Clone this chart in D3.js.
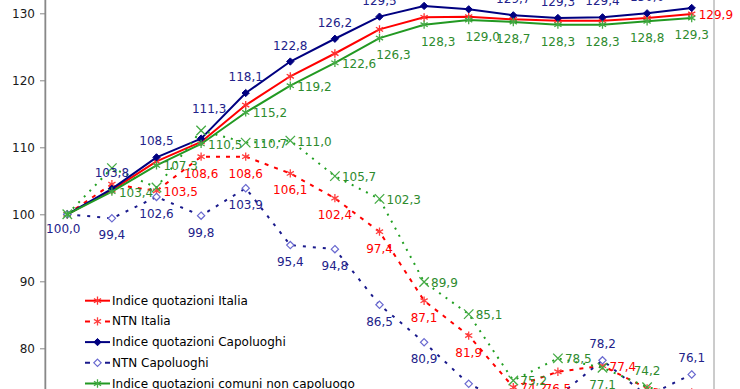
<!DOCTYPE html>
<html><head><meta charset="utf-8">
<script src="https://cdn.jsdelivr.net/npm/d3@7"></script>
<style>html,body{margin:0;padding:0;background:#fff;overflow:hidden}svg{display:block;font-family:"DejaVu Sans",Verdana,sans-serif}</style>
</head><body><svg id="c" width="740" height="389"></svg>
<script>
// ---- data ----
const categories = ["I sem 2004","II sem 2004","I sem 2005","II sem 2005","I sem 2006","II sem 2006","I sem 2007","II sem 2007","I sem 2008","II sem 2008","I sem 2009","II sem 2009","I sem 2010","II sem 2010","I sem 2011"];
const indiceItalia       = [100.0,103.6,107.9,110.8,116.3,120.6,124.0,127.6,129.4,129.5,129.1,128.9,128.9,129.3,129.9];
const ntnItalia          = [100.0,104.5,103.5,108.6,108.6,106.1,102.4,97.4,87.1,81.9,74.2,76.5,77.4,74.0,73.4];
const indiceCapoluoghi   = [100.0,103.8,108.5,111.3,118.1,122.8,126.2,129.5,131.1,130.6,129.7,129.3,129.4,130.0,130.8];
const ntnCapoluoghi      = [100.0,99.4,102.6,99.8,103.9,95.4,94.8,86.5,80.9,74.7,71.5,72.8,78.2,72.9,76.1];
const indiceNonCapoluogo = [100.0,103.4,107.3,110.5,115.2,119.2,122.6,126.3,128.3,129.0,128.7,128.3,128.3,128.8,129.3];
const ntnNonCapoluogo    = [100.0,106.9,104.0,112.5,110.7,111.0,105.7,102.3,89.9,85.1,75.2,78.5,77.1,74.2,72.8];
const yTicks = [70,80,90,100,110,120,130,140];
const seriesNames = ["Indice quotazioni Italia","NTN Italia","Indice quotazioni Capoluoghi","NTN Capoluoghi","Indice quotazioni comuni non capoluogo","NTN comuni non capoluogo"];

// ---- styles ----
const styles = [
  {values: indiceItalia,       line:"#FF0000", mark:"#FF3030", label:"#FF0000", dash:null,  sym:"ast",  fill:false,
   lab:["","","","","","","","","","","","","","","r"]},
  {values: ntnItalia,          line:"#FF0000", mark:"#FF4040", label:"#FF0000", dash:"4,6", sym:"ast",  fill:false,
   lab:["","","r","b","b","b","b","b","b","b","r","b","r","b","r"]},
  {values: indiceCapoluoghi,   line:"#000080", mark:"#000080", label:"#22228A", dash:null,  sym:"dia",  fill:true,
   lab:["bl","a","a","a2","a","a","a","a","a","a","a","a","a","a","a"]},
  {values: ntnCapoluoghi,      line:"#1A1A8C", mark:"#6A6AD0", label:"#22228A", dash:"3,7", sym:"dia",  fill:false,
   lab:["","b","b","b","b","b","b","b","b","b","b","b","a","b","a"]},
  {values: indiceNonCapoluogo, line:"#229922", mark:"#44AA44", label:"#2E8B2E", dash:null,  sym:"ast",  fill:false,
   lab:["","r","r","r","r","r","r","br","br","br","b","b","b","b","b"]},
  {values: ntnNonCapoluogo,    line:"#22A022", mark:"#44AA44", label:"#2E8B2E", dash:"2,6", sym:"x",    fill:false,
   lab:["","","","","r","r","r","r","r","r","r","r","b","a",""]}
];

const svg = d3.select("#c");
const left = 45, right = 714;
const x = d3.scaleBand().domain(categories).range([left, right]).padding(0);
const cx = c => x(c) + x.bandwidth()/2;
const y = d3.scaleLinear().domain([70,140]).range([415.3, -53.7]);

// plot area border
svg.append("rect").attr("x", left).attr("y", y(140)).attr("width", right-left).attr("height", y(70)-y(140))
  .attr("fill","none").attr("stroke","#BBBBBB").attr("stroke-width",1.5);

// y axis
const ax = svg.append("g").attr("transform",`translate(${left},0)`)
  .call(d3.axisLeft(y).tickValues(yTicks).tickSize(5).tickPadding(5).tickFormat(d3.format("d")));
ax.select(".domain").attr("stroke","#888").attr("stroke-width",1.5);
ax.selectAll(".tick line").attr("stroke","#888");
ax.selectAll("text").attr("font-size",12).attr("fill","#1a1a1a").attr("font-family","DejaVu Sans");

function symPath(type){
  if(type==="ast") return d3.symbol().type(d3.symbolAsterisk).size(48)();
  if(type==="dia") return d3.symbol().type(d3.symbolDiamond2).size(34)();
  return d3.symbol().type(d3.symbolTimes).size(60)();
}
function drawMarker(g, s, px, py){
  const p = g.append("path").attr("d", symPath(s.sym)).attr("transform",`translate(${px},${py})`);
  if(s.fill) p.attr("fill", s.mark).attr("stroke", s.mark).attr("stroke-width",1);
  else if(s.sym==="dia") p.attr("fill","#fff").attr("stroke", s.mark).attr("stroke-width",1.2);
  else p.attr("fill","none").attr("stroke", s.mark).attr("stroke-width",1.3);
}

const line = d3.line().x((d,i)=>cx(categories[i])).y(d=>y(d));
const gLines = svg.append("g");
styles.forEach(s=>{
  const path = gLines.append("path").datum(s.values).attr("d", line)
    .attr("fill","none").attr("stroke", s.line).attr("stroke-width", 2).attr("stroke-linejoin","round");
  if(s.dash) path.attr("stroke-dasharray", s.dash);
  s.values.forEach((v,i)=> drawMarker(gLines, s, cx(categories[i]), y(v)));
});

// data labels
const fmt = v => d3.format(".1f")(v).replace(".", ",");
const gLab = svg.append("g").attr("font-size",12).attr("font-family","DejaVu Sans");
styles.forEach(s=>{
  s.values.forEach((v,i)=>{
    const pos = s.lab[i]; if(!pos) return;
    const px = cx(categories[i]), py = y(v);
    let tx=px, ty=py, anchor="middle";
    if(pos==="a"){ ty = py-16; }
    else if(pos==="a2"){ tx = px+8; ty = py-30; }
    else if(pos==="b"){ ty = py+17; }
    else if(pos==="bl"){ tx = px-4; ty = py+15; }
    else if(pos==="r"){ tx = px+7; ty = py+1; anchor="start"; }
    else if(pos==="br"){ tx = px+14; ty = py+17; }
    gLab.append("text").attr("x",tx).attr("y",ty).attr("text-anchor",anchor)
      .attr("dominant-baseline","central").attr("fill", s.label).text(fmt(v));
  });
});

// legend
const lg = svg.append("g").attr("font-size",12).attr("font-family","DejaVu Sans");
const legY0 = 300.7, legStep = 20.7, lx0 = 85, lx1 = 110;
seriesNames.forEach((name,k)=>{
  const s = styles[k], yy = legY0 + k*legStep;
  const l = lg.append("line").attr("x1",lx0).attr("x2",lx1).attr("y1",yy).attr("y2",yy)
    .attr("stroke", s.line).attr("stroke-width",2);
  if(s.dash) l.attr("stroke-dasharray", s.sym==="x" ? "2,5" : "5,15,5");
  drawMarker(lg, s, (lx0+lx1)/2, yy);
  lg.append("text").attr("x",112).attr("y",yy).attr("dominant-baseline","central")
    .attr("fill","#000").text(name);
});
</script></body></html>
